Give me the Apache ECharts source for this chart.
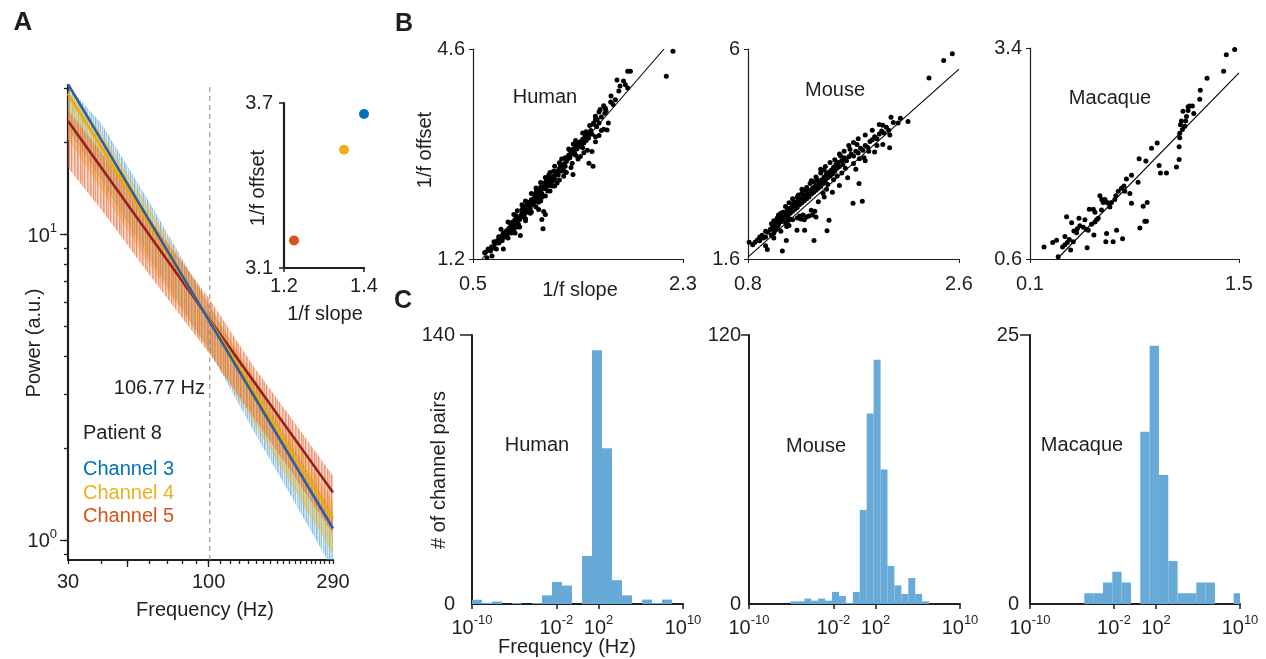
<!DOCTYPE html>
<html><head><meta charset="utf-8">
<script src="https://cdn.jsdelivr.net/npm/echarts@6/dist/echarts.min.js"></script>
<style>html,body{margin:0;padding:0;background:#fff}#c{width:1266px;height:659px}</style>
</head><body><div id="c"></div>
<script>
// ================= DATA =================
// Panel A: power spectra (noise envelopes) and 1/f fits
const psdFreqs = [30, 40, 60, 100, 150, 200, 290];
const ch3Upper = [30.5, 23.0, 12.8, 5.9, 3.2, 2.1, 1.22];
const ch3Lower = [22.0, 15.0, 8.4, 4.2, 2.2, 1.42, 0.80];
const ch4Upper = [29.5, 21.5, 12.2, 5.9, 3.35, 2.25, 1.33];
const ch4Lower = [20.5, 14.0, 8.0, 4.2, 2.35, 1.55, 0.90];
const ch5Upper = [25.5, 18.5, 11.3, 6.2, 3.6, 2.55, 1.62];
const ch5Lower = [16.5, 12.0, 7.4, 4.1, 2.45, 1.7, 1.05];
const fitFreqs = [30, 290];
const ch3Fit = [31.0, 1.09];
const ch4Fit = [28.8, 1.18];
const ch5Fit = [23.5, 1.43];
const kneeFreq = 101;           // dashed marker drawn at ~100 Hz, labelled 106.77 Hz
const kneeLabel = '106.77 Hz';
const aFreqTicks = [30,40,50,60,70,80,90,100,110,120,130,140,150,160,170,180,190,200,210,220,230,240,250,260,270,280,290];
const aFreqLabels = [30, 100, 290];
const aPowerTicks = [0.9,1,2,3,4,5,6,7,8,9,10,20,30];
const aPowerLabels = [1, 10];
const channelNames = ['Channel 3', 'Channel 4', 'Channel 5'];
// Inset: 1/f slope vs offset per channel
const insetSlope = [1.40, 1.35, 1.225];
const insetOffset = [3.66, 3.53, 3.20];

// Panel B: 1/f slope vs 1/f offset
const humanPoints = [[0.60,1.30],[0.62,1.22],[0.63,1.36],[0.65,1.33],[0.66,1.40],[0.68,1.38],[0.69,1.45],[0.70,1.36],[0.68,1.48],[0.606,1.31],[0.663,1.25],[0.76,1.36],
[0.71,1.50],[0.72,1.46],[0.73,1.53],[0.74,1.49],[0.75,1.58],[0.76,1.55],[0.77,1.60],[0.78,1.56],[0.79,1.66],[0.80,1.62],[0.72,1.56],[0.75,1.50],[0.78,1.64],[0.76,1.62],[0.79,1.58],
[0.81,1.70],[0.82,1.66],[0.83,1.74],[0.84,1.70],[0.85,1.78],[0.86,1.75],[0.87,1.82],[0.88,1.78],[0.89,1.86],[0.90,1.84],[0.82,1.78],[0.84,1.80],[0.86,1.84],[0.88,1.72],[0.85,1.68],[0.87,1.90],[0.89,1.76],[0.83,1.62],[0.906,1.58],
[0.91,1.90],[0.92,1.94],[0.93,1.88],[0.94,1.98],[0.95,1.95],[0.96,2.02],[0.97,1.99],[0.98,2.06],[0.99,2.02],[1.00,2.10],[0.92,2.00],[0.94,1.92],[0.96,2.08],[0.98,1.96],[0.95,1.85],[0.93,2.04],[0.97,2.12],[0.991,1.94],[1.00,2.16],
[1.01,2.12],[1.02,2.18],[1.03,2.14],[1.04,2.22],[1.05,2.18],[1.06,2.26],[1.07,2.22],[1.08,2.30],[1.09,2.26],[1.10,2.34],[1.02,2.08],[1.04,2.28],[1.06,2.12],[1.08,2.36],[1.05,2.30],[1.09,2.20],[1.03,2.24],[1.07,2.32],[1.063,2.00],[1.09,1.84],[1.10,1.69],[1.106,1.97],[1.12,1.92],
[1.11,2.38],[1.12,2.34],[1.13,2.42],[1.14,2.38],[1.15,2.46],[1.16,2.42],[1.17,2.50],[1.18,2.46],[1.19,2.54],[1.20,2.50],[1.12,2.44],[1.14,2.30],[1.16,2.52],[1.18,2.38],[1.15,2.56],[1.13,2.50],[1.19,2.62],[1.17,2.40],
[1.21,2.58],[1.22,2.62],[1.23,2.56],[1.24,2.66],[1.25,2.62],[1.26,2.70],[1.27,2.66],[1.28,2.74],[1.29,2.70],[1.30,2.78],[1.22,2.43],[1.25,2.72],[1.28,2.62],[1.277,2.54],[1.24,2.76],[1.29,2.84],
[1.31,2.82],[1.32,2.88],[1.33,2.84],[1.34,2.94],[1.35,2.90],[1.36,2.98],[1.37,2.92],[1.38,3.02],[1.39,2.98],[1.40,3.06],[1.35,2.75],[1.357,2.57],[1.42,2.86],[1.33,2.96],[1.36,3.06],[1.38,2.88],
[1.41,3.02],[1.42,3.10],[1.43,3.04],[1.44,3.14],[1.45,3.08],[1.46,3.18],[1.47,3.12],[1.48,3.20],[1.49,3.16],[1.50,3.24],[1.52,2.94],[1.494,2.75],[1.529,2.70],[1.44,3.00],[1.47,3.26],
[1.51,3.28],[1.52,3.22],[1.53,3.38],[1.534,3.40],[1.549,3.51],[1.563,3.46],[1.56,3.34],[1.58,3.40],[1.60,3.50],[1.62,3.68],[1.634,3.64],[1.649,3.29],[1.60,3.28],[1.55,3.18],[1.63,3.56],[1.58,3.58],
[1.683,3.84],[1.734,4.10],[1.79,4.08],[1.806,4.02],[1.826,3.97],[1.826,4.24],[1.849,4.24],[1.70,3.70],[1.75,3.92],[2.157,4.157],[2.214,4.562],
[0.74,1.68],[0.80,1.80],[0.85,1.92],[0.88,1.98],[0.92,2.08],[0.95,2.14],[1.00,2.26],[1.04,2.35],[1.08,2.44],[1.12,2.52],[1.16,2.60],[1.20,2.70],[1.26,2.82],[1.32,2.98],[1.38,3.12],[1.44,3.24],[1.50,3.36],[1.55,3.46],
[0.80,1.54],[0.86,1.62],[0.90,1.72],[0.95,1.82],[1.00,1.96],[1.04,2.04],[1.08,2.14],[1.12,2.22],[1.16,2.30],[1.20,2.38],[1.24,2.48],[1.30,2.60],[1.34,2.68],[1.40,2.82],[1.45,2.92],[1.48,2.96],[1.55,3.10],[1.58,3.20],[1.62,3.30],[1.66,3.40],
[1.68,3.74],[1.72,3.78],[1.64,3.60],[1.76,4.00],[1.59,3.62]];
const mousePoints = [[0.81,1.95],[0.86,1.95],[0.84,1.90],[0.88,2.00],[0.90,1.98],[0.93,2.04],[0.92,2.10],[0.95,2.06],[0.965,1.80],
[0.97,2.16],[0.99,2.22],[1.00,2.23],[1.01,2.30],[1.02,2.14],[1.03,2.36],[1.04,2.28],[1.05,2.40],[1.06,2.32],[1.07,2.46],[1.08,2.38],[1.09,2.50],[1.10,2.44],[1.093,1.77],[1.00,2.10],[1.03,2.20],[1.05,2.25],[1.08,2.56],[1.06,2.52],[1.02,2.40],
[1.11,2.54],[1.12,2.48],[1.13,2.60],[1.14,2.52],[1.15,2.64],[1.16,2.56],[1.17,2.68],[1.18,2.60],[1.19,2.72],[1.20,2.64],[1.127,1.99],[1.12,2.36],[1.14,2.40],[1.16,2.44],[1.18,2.42],[1.12,2.70],[1.15,2.78],[1.18,2.76],[1.20,2.80],[1.13,2.28],
[1.21,2.76],[1.22,2.68],[1.23,2.82],[1.24,2.74],[1.25,2.86],[1.26,2.78],[1.27,2.90],[1.28,2.82],[1.29,2.94],[1.30,2.86],[1.218,2.20],[1.22,2.46],[1.25,2.44],[1.28,2.42],[1.283,2.20],[1.24,2.50],[1.27,2.52],[1.30,2.48],[1.23,2.94],[1.26,2.98],[1.29,3.04],
[1.31,2.98],[1.32,2.90],[1.33,3.04],[1.34,2.96],[1.35,3.08],[1.36,3.00],[1.37,3.12],[1.38,3.04],[1.39,3.16],[1.40,3.08],[1.32,2.50],[1.35,2.52],[1.363,1.99],[1.38,2.48],[1.33,3.18],[1.36,3.22],[1.39,3.26],[1.34,2.62],[1.37,2.60],
[1.41,3.20],[1.42,3.12],[1.43,3.26],[1.44,3.18],[1.45,3.32],[1.46,3.24],[1.47,3.38],[1.48,3.30],[1.49,3.42],[1.50,3.34],[1.474,2.19],[1.491,2.41],[1.42,3.40],[1.45,3.46],[1.48,3.16],[1.44,2.98],[1.47,3.06],
[1.51,3.46],[1.52,3.38],[1.53,3.52],[1.54,3.44],[1.55,3.58],[1.56,3.50],[1.57,3.62],[1.58,3.54],[1.60,3.66],[1.61,3.58],[1.62,3.72],[1.64,3.66],[1.56,3.34],[1.60,3.40],[1.63,3.50],[1.53,3.26],[1.59,3.76],
[1.66,3.74],[1.68,3.80],[1.70,3.76],[1.72,3.86],[1.74,3.82],[1.76,3.92],[1.78,3.88],[1.80,3.98],[1.82,3.94],[1.84,4.06],[1.696,2.77],[1.775,2.81],[1.747,3.18],[1.70,3.60],[1.75,3.70],[1.79,3.72],[1.83,3.86],[1.67,3.90],[1.73,4.00],
[1.86,4.10],[1.88,4.16],[1.90,4.12],[1.92,4.22],[1.94,4.28],[1.96,4.24],[1.98,4.36],[2.00,4.30],[2.02,4.57],[2.01,4.20],[2.008,3.93],[2.08,4.45],[2.10,4.55],[2.165,4.48],[2.344,5.39],[2.469,5.76],[2.543,5.90],[1.95,4.40],[1.90,3.98],[2.04,4.46],
[0.90,2.06],[0.95,2.18],[1.00,2.34],[1.05,2.46],[1.10,2.58],[1.14,2.66],[1.18,2.86],[1.22,2.90],[1.26,3.06],[1.30,3.10],[1.34,3.24],[1.38,3.32],[1.42,3.48],[1.46,3.54],[1.50,3.62],[1.54,3.68],[1.58,3.80],[1.62,3.86],[1.66,3.98],[1.70,4.04],[1.74,4.12],[1.80,4.20],[1.86,4.30],[1.92,4.42],
[0.95,1.88],[1.02,2.04],[1.08,2.18],[1.15,2.30],[1.40,2.80],[1.45,2.90],[1.52,3.00],[1.58,3.14],[1.65,3.30],[1.72,3.48],[1.80,3.66],[1.88,3.84],[1.95,4.00]];
const macaquePoints = [[0.194,0.76],[0.252,0.82],[0.278,0.85],[0.289,0.63],[0.318,0.76],[0.334,0.79],[0.345,1.16],[0.35,0.82],[0.363,0.86],[0.372,0.72],[0.379,1.08],[0.394,0.97],[0.412,0.95],[0.428,1.14],[0.457,1.02],[0.483,0.75],[0.49,0.98],[0.497,1.26],[0.512,1.06],[0.524,1.26],[0.528,0.92],[0.535,1.09],[0.546,1.12],[0.557,1.14],[0.568,1.44],[0.579,1.25],[0.602,1.39],[0.608,0.83],[0.613,0.94],[0.624,1.34],[0.635,1.29],[0.646,1.35],[0.657,0.83],[0.668,1.39],[0.68,0.98],[0.691,1.50],[0.72,0.87],[0.729,1.57],[0.735,1.50],[0.746,1.66],[0.769,1.47],[0.78,1.71],[0.78,1.34],[0.824,1.62],[0.831,1.93],[0.836,1.01],[0.858,1.30],[0.869,1.10],[0.88,1.10],[0.885,1.35],[0.876,1.90],[0.914,2.07],[0.952,2.14],[0.965,1.84],[0.974,1.74],[1.014,1.74],[1.081,1.82],[1.099,1.92],[1.099,2.09],[1.103,2.21],[1.103,2.27],[1.108,2.38],[1.121,2.32],[1.137,2.36],[1.143,2.43],[1.148,2.49],[1.159,2.62],[1.17,2.63],[1.188,2.63],[1.197,2.53],[1.237,2.72],[1.241,2.84],[1.286,3.00],[1.397,3.09],[1.415,3.31],[1.471,3.38],
[0.39,0.83],[0.434,1.04],[0.468,1.12],[0.59,1.35],[0.617,1.35],[0.675,1.44],[0.713,1.54],[0.581,1.39],[0.535,1.22],[0.417,1.00],[0.334,0.90],[0.479,0.99],[1.125,2.56],[1.159,2.57],[1.114,2.43]];
const humanFit = [[0.577,1.2],[2.137,4.6]];
const mouseFit = [[0.8,1.64],[2.6,5.58]];
const macaqueFit = [[0.281,0.6],[1.5,3.07]];

// Panel C: histograms over log10(frequency) bins
const humanBinStart = -10.0, humanBinWidth = 0.948;
const humanCounts = [2.2, 0.6, 1.3, 0, 0.5, 0, 0.5, 4.5, 11.5, 9.6, 0, 25, 132, 81, 12.4, 4.5, 0, 2.3, 0.5, 2.3];
const mouseBinStart = -6.07, mouseBinWidth = 0.657;
const mouseCounts = [1.2, 1.2, 2.4, 1.5, 2.4, 1.5, 5.4, 3.6, 0.5, 5.4, 42, 85, 109, 60, 17, 8.3, 4.5, 11.6, 4.5, 1.2];
const macaqueBinStart = -4.83, macaqueBinWidth = 0.889;
const macaqueCounts = [1, 1, 2, 3, 2, 0, 16, 24, 12, 4, 1, 1, 2, 2, 0, 0, 1];
const histExpTicks = [-10, -2, 2, 10];

// ================= STYLE =================
const FONT = '"Liberation Sans", Arial, Helvetica, sans-serif';
const INK = '#1f1f1f';
const chColors = ['#0072BD', '#EDB120', '#D95319'];
const fitColors = ['#2f5e9c', '#f0aa00', '#9b1e1e'];
const barColor = '#67a9d7';
// streaky texture for the raw spectra (fixed stripe opacities, purely decorative)
function stripePattern(rgb, alphas) {
  const c = document.createElement('canvas');
  c.width = alphas.length; c.height = 8;
  const g = c.getContext('2d');
  alphas.forEach((a, i) => { g.fillStyle = 'rgba(' + rgb + ',' + a + ')'; g.fillRect(i, 0, 1, 8); });
  return {image: c, repeat: 'repeat'};
}
const noiseFills = [
  stripePattern('95,168,222', [0.75, 0.3, 0.6, 0.2, 0.8, 0.45, 0.25, 0.7, 0.35, 0.65, 0.15, 0.55, 0.3]),
  stripePattern('245,195,70', [0.3, 0.7, 0.4, 0.75, 0.2, 0.6, 0.8, 0.35, 0.65, 0.2, 0.7, 0.4, 0.55]),
  stripePattern('232,115,65', [0.55, 0.2, 0.75, 0.45, 0.65, 0.25, 0.8, 0.4, 0.2, 0.7, 0.5, 0.3, 0.75])
];

function mkAxis(base, o) {
  return Object.assign({
    axisLine: {show: true, onZero: false, lineStyle: {color: INK, width: o.lw || 1.2}},
    axisTick: {show: true, inside: false, length: o.tl || 4, customValues: o.ticks, lineStyle: {color: INK, width: o.tw || 1}},
    axisLabel: {show: o.labels !== null, customValues: o.labels || undefined, fontSize: 20, fontFamily: FONT, color: INK,
      margin: o.lm || 10, formatter: o.fmt, rich: o.rich, hideOverlap: false, showMinLabel: true, showMaxLabel: true},
    splitLine: {show: false}, minorTick: {show: false}, minorSplitLine: {show: false}
  }, base);
}
const supRich = {
  b: {fontSize: 20, fontFamily: FONT, color: INK, lineHeight: 24, verticalAlign: 'bottom'},
  s: {fontSize: 13, fontFamily: FONT, color: INK, lineHeight: 14, verticalAlign: 'top'}
};
const expFmt = v => '{b|10}{s|' + Math.round(v) + '}';
const logFmt = v => '{b|10}{s|' + Math.round(Math.log10(v)) + '}';

const grids = [
  {left: 68, top: 85, width: 265, height: 475},
  {left: 284, top: 103, width: 80, height: 165},
  {left: 473, top: 49, width: 210, height: 210},
  {left: 748, top: 49, width: 211, height: 210},
  {left: 1030, top: 48, width: 209, height: 211},
  {left: 472, top: 335, width: 211, height: 269},
  {left: 749, top: 335, width: 211, height: 269},
  {left: 1030, top: 335, width: 210, height: 269}
].map(g => Object.assign({containLabel: false, outerBoundsMode: 'none'}, g));

const xAxes = [
  mkAxis({gridIndex: 0, type: 'log', logBase: 10, min: 30, max: 290}, {lw: 2.2, ticks: aFreqTicks, tl: 4, tw: 1.3, labels: aFreqLabels, lm: 12}),
  mkAxis({gridIndex: 1, type: 'value', min: 1.2, max: 1.4}, {lw: 2.2, ticks: [1.2, 1.4], tl: 4, tw: 1.5, labels: [1.2, 1.4], lm: 8}),
  mkAxis({gridIndex: 2, type: 'value', min: 0.5, max: 2.3}, {ticks: [0.5, 2.3], labels: [0.5, 2.3], lm: 15}),
  mkAxis({gridIndex: 3, type: 'value', min: 0.8, max: 2.6}, {ticks: [0.8, 2.6], labels: [0.8, 2.6], lm: 15}),
  mkAxis({gridIndex: 4, type: 'value', min: 0.1, max: 1.5}, {ticks: [0.1, 1.5], labels: [0.1, 1.5], lm: 15}),
  mkAxis({gridIndex: 5, type: 'value', min: -10, max: 10}, {lw: 2, ticks: histExpTicks, tl: 5, tw: 1.5, labels: histExpTicks, lm: 10, fmt: expFmt, rich: supRich}),
  mkAxis({gridIndex: 6, type: 'value', min: -10, max: 10}, {lw: 2, ticks: histExpTicks, tl: 5, tw: 1.5, labels: histExpTicks, lm: 10, fmt: expFmt, rich: supRich}),
  mkAxis({gridIndex: 7, type: 'value', min: -10, max: 10}, {lw: 2, ticks: histExpTicks, tl: 5, tw: 1.5, labels: histExpTicks, lm: 10, fmt: expFmt, rich: supRich}),
  // longer ticks at 50 and 100 Hz
  mkAxis({gridIndex: 0, type: 'log', logBase: 10, min: 30, max: 290, position: 'bottom', axisLine: {show: false}}, {ticks: [50, 100], tl: 7, tw: 1.3, labels: null})
];
const yAxes = [
  mkAxis({gridIndex: 0, type: 'log', logBase: 10, min: 0.86, max: 30.8}, {lw: 2.2, ticks: aPowerTicks, tl: 4, tw: 1.3, labels: aPowerLabels, lm: 11, fmt: logFmt, rich: supRich}),
  mkAxis({gridIndex: 1, type: 'value', min: 3.1, max: 3.7}, {lw: 2.2, ticks: [3.1, 3.7], tl: 5, tw: 1.5, labels: [3.1, 3.7], lm: 11}),
  mkAxis({gridIndex: 2, type: 'value', min: 1.2, max: 4.6}, {ticks: [1.2, 4.6], labels: [1.2, 4.6], lm: 8}),
  mkAxis({gridIndex: 3, type: 'value', min: 1.6, max: 6}, {ticks: [1.6, 6], labels: [1.6, 6], lm: 8}),
  mkAxis({gridIndex: 4, type: 'value', min: 0.6, max: 3.4}, {ticks: [0.6, 3.4], labels: [0.6, 3.4], lm: 8}),
  mkAxis({gridIndex: 5, type: 'value', min: 0, max: 140}, {lw: 2, ticks: [140], tl: 12, tw: 1.5, labels: [0, 140], lm: 17}),
  mkAxis({gridIndex: 6, type: 'value', min: 0, max: 120}, {lw: 2, ticks: [120], tl: 8, tw: 1.5, labels: [0, 120], lm: 8}),
  mkAxis({gridIndex: 7, type: 'value', min: 0, max: 25}, {lw: 2, ticks: [25], tl: 10, tw: 1.5, labels: [0, 25], lm: 11}),
  // longer ticks at 1 and 10
  mkAxis({gridIndex: 0, type: 'log', logBase: 10, min: 0.86, max: 30.8, position: 'left', axisLine: {show: false}}, {ticks: [1, 10], tl: 8, tw: 1.3, labels: null})
];

function bandSeries(upper, lower, fill) {
  return {
    type: 'custom', xAxisIndex: 0, yAxisIndex: 0, z: 1, silent: true, clip: true,
    data: psdFreqs.map((f, i) => [f, lower[i], upper[i]]),
    encode: {x: 0, y: [1, 2]},
    renderItem: (params, api) => {
      if (params.dataIndex !== 0) return null;
      const pts = [];
      for (let i = 0; i < psdFreqs.length; i++) pts.push(api.coord([psdFreqs[i], upper[i]]));
      for (let i = psdFreqs.length - 1; i >= 0; i--) pts.push(api.coord([psdFreqs[i], lower[i]]));
      return {type: 'polygon', shape: {points: pts}, style: {fill: fill}};
    }
  };
}
function lineSeries(xi, data, color, width, dash) {
  return {type: 'line', xAxisIndex: xi, yAxisIndex: xi, data: data, symbol: 'none', showSymbol: false, silent: true, clip: true, z: 3,
    lineStyle: {color: color, width: width, type: dash ? [5, 4] : 'solid'}};
}
function histSeries(idx, counts, start, width) {
  return {
    type: 'custom', xAxisIndex: idx, yAxisIndex: idx, silent: true, clip: true,
    data: counts.map((c, i) => [start + i * width, start + (i + 1) * width, c]),
    encode: {x: [0, 1], y: 2},
    renderItem: (params, api) => {
      const p0 = api.coord([api.value(0), api.value(2)]);
      const p1 = api.coord([api.value(1), 0]);
      const cs = params.coordSys;
      const r = echarts.graphic.clipRectByRect(
        {x: p0[0], y: p0[1], width: p1[0] - p0[0], height: p1[1] - p0[1]},
        {x: cs.x, y: cs.y, width: cs.width, height: cs.height});
      return r ? {type: 'rect', shape: r, style: {fill: barColor}} : null;
    }
  };
}
function scatterSeries(xi, data, color, size) {
  return {type: 'scatter', xAxisIndex: xi, yAxisIndex: xi, data: data, symbol: 'circle', symbolSize: size, silent: true, z: 4,
    itemStyle: {color: color, opacity: 1}};
}

const series = [
  bandSeries(ch3Upper, ch3Lower, noiseFills[0]),
  bandSeries(ch4Upper, ch4Lower, noiseFills[1]),
  bandSeries(ch5Upper, ch5Lower, noiseFills[2]),
  lineSeries(0, [[kneeFreq, 0.86], [kneeFreq, 30.8]], '#8a8a8a', 1, true),
  lineSeries(0, fitFreqs.map((f, i) => [f, ch5Fit[i]]), fitColors[2], 2.6),
  lineSeries(0, fitFreqs.map((f, i) => [f, ch4Fit[i]]), fitColors[1], 2.6),
  lineSeries(0, fitFreqs.map((f, i) => [f, ch3Fit[i]]), fitColors[0], 2.6),
  scatterSeries(1, [[insetSlope[0], insetOffset[0]]], chColors[0], 10),
  scatterSeries(1, [[insetSlope[1], insetOffset[1]]], chColors[1], 10),
  scatterSeries(1, [[insetSlope[2], insetOffset[2]]], chColors[2], 10),
  scatterSeries(2, humanPoints, '#000', 5),
  scatterSeries(3, mousePoints, '#000', 5),
  scatterSeries(4, macaquePoints, '#000', 5),
  lineSeries(2, humanFit, '#000', 1.1),
  lineSeries(3, mouseFit, '#000', 1.1),
  lineSeries(4, macaqueFit, '#000', 1.1),
  histSeries(5, humanCounts, humanBinStart, humanBinWidth),
  histSeries(6, mouseCounts, mouseBinStart, mouseBinWidth),
  histSeries(7, macaqueCounts, macaqueBinStart, macaqueBinWidth)
];

function T(text, x, y, o) {
  o = o || {};
  return {type: 'text', x: x, y: y, rotation: o.rot || 0, silent: true, z: 100,
    style: {text: text, fill: o.color || INK, fontSize: o.size || 20, fontFamily: FONT, fontWeight: o.weight || 'normal',
      align: o.align || 'center', verticalAlign: 'middle'}};
}
const R90 = Math.PI / 2;
const graphics = [
  T('A', 23, 23, {size: 26, weight: 'bold'}),
  T('B', 404, 24, {size: 25, weight: 'bold'}),
  T('C', 403, 301, {size: 25, weight: 'bold'}),
  T('Power (a.u.)', 34, 343, {rot: R90}),
  T('Frequency (Hz)', 205, 610),
  T(kneeLabel, 205, 388, {align: 'right'}),
  T('Patient 8', 83, 433, {align: 'left'}),
  T(channelNames[0], 83, 469, {align: 'left', color: chColors[0]}),
  T(channelNames[1], 83, 493, {align: 'left', color: chColors[1]}),
  T(channelNames[2], 83, 516, {align: 'left', color: chColors[2]}),
  T('1/f offset', 258, 188, {rot: R90}),
  T('1/f slope', 325, 314),
  T('1/f offset', 425, 150, {rot: R90}),
  T('1/f slope', 580, 290),
  T('Human', 545, 97),
  T('Mouse', 835, 90),
  T('Macaque', 1110, 98),
  T('# of channel pairs', 439, 470, {rot: R90}),
  T('Frequency (Hz)', 567, 647),
  T('Human', 537, 445),
  T('Mouse', 816, 446),
  T('Macaque', 1082, 445)
];

const chart = echarts.init(document.getElementById('c'), null, {renderer: 'canvas'});
chart.setOption({
  animation: false,
  backgroundColor: '#ffffff',
  textStyle: {fontFamily: FONT},
  grid: grids,
  xAxis: xAxes,
  yAxis: yAxes,
  series: series,
  graphic: graphics
});
</script>
</body></html>
